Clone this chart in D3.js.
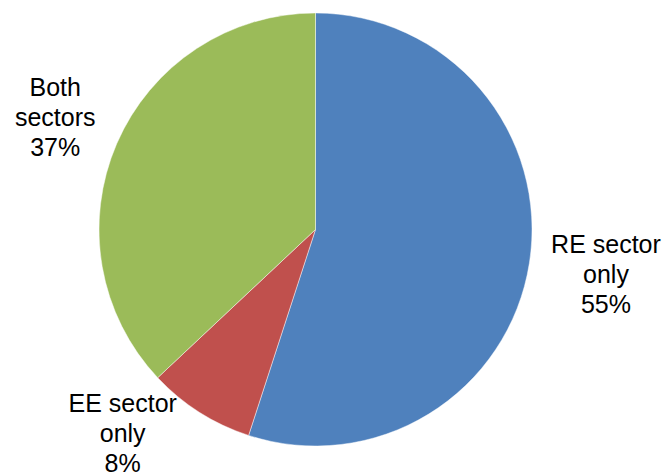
<!DOCTYPE html>
<html>
<head>
<meta charset="utf-8">
<script src="https://cdn.jsdelivr.net/npm/d3@7"></script>
<style>
  html, body { margin: 0; padding: 0; background: #fff; }
  svg { display: block; }
  text { font-family: "Liberation Sans", Arial, sans-serif; font-size: 25px; fill: #000; }
</style>
</head>
<body>
<svg id="chart" width="667" height="473"></svg>
<script>
// Share of organisations by sector
const categories = ["RE sector only", "EE sector only", "Both sectors"];
const shares = [55, 8, 37];
const labelLines = [["RE sector", "only", "55%"], ["EE sector", "only", "8%"], ["Both", "sectors", "37%"]];
const colors = ["#4F81BD", "#C0504D", "#9BBB59"];

const width = 667, height = 473;
const cx = 315.5, cy = 229.5, radius = 216.5;
const labelRadius = 288;
const lineHeight = 30;
// per-label nudges from the outer label ring
const labelNudge = { "RE sector only": [6, 0], "EE sector only": [-38.5, -39.5], "Both sectors": [4, 2] };

const svg = d3.select("#chart");
const g = svg.append("g").attr("transform", `translate(${cx},${cy})`);

const color = d3.scaleOrdinal().domain(categories).range(colors);

const pie = d3.pie().sort(null).value(d => d.value).startAngle(0).endAngle(2 * Math.PI);
const data = categories.map((c, i) => ({ name: c, value: shares[i], lines: labelLines[i] }));
const arcs = pie(data);

const arc = d3.arc().innerRadius(0).outerRadius(radius);
const labelArc = d3.arc().innerRadius(labelRadius).outerRadius(labelRadius);

g.selectAll("path.slice")
  .data(arcs)
  .join("path")
  .attr("class", "slice")
  .attr("d", arc)
  .attr("fill", d => color(d.data.name))
  .attr("stroke", "#ffffff")
  .attr("stroke-opacity", 0.6)
  .attr("stroke-width", 0.75);

const labels = g.selectAll("text.label")
  .data(arcs)
  .join("text")
  .attr("class", "label")
  .attr("text-anchor", "middle")
  .attr("transform", d => {
    const [x, y] = labelArc.centroid(d);
    const [dx, dy] = labelNudge[d.data.name];
    return `translate(${x + dx},${y + dy})`;
  });

labels.selectAll("tspan")
  .data(d => d.data.lines.map((t, i, a) => ({ t, off: (i - (a.length - 1) / 2) * lineHeight })))
  .join("tspan")
  .attr("x", 0)
  .attr("y", d => d.off + 8.5)
  .text(d => d.t);
</script>
</body>
</html>
